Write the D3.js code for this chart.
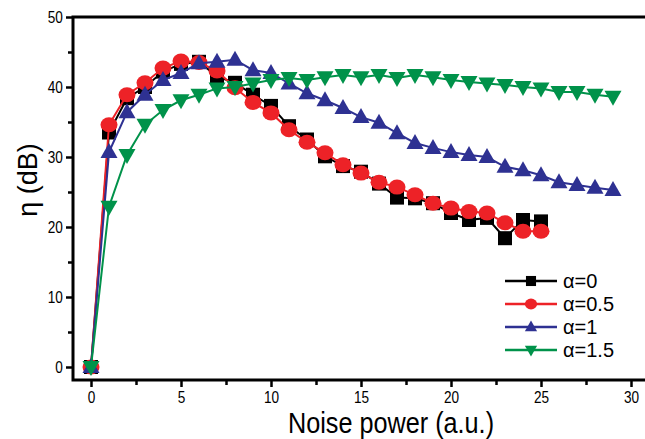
<!DOCTYPE html>
<html>
<head>
<meta charset="utf-8">
<script src="https://cdn.jsdelivr.net/npm/d3@7"></script>
<style>
body { margin: 0; background: #fff; }
text { font-family: "Liberation Sans Narrow", "Arial Narrow", "Liberation Sans", sans-serif; fill: #000; }
.series path.line { fill: none; stroke-width: 2px; }
</style>
</head>
<body>
<script>
// noise power (a.u.)
var xs0 = d3.range(0, 26);   // alpha = 0, 0.5
var xs1 = d3.range(0, 30);   // alpha = 1, 1.5

var eta_a0 = [0, 33.5, 38.4, 40.0, 42.2, 43.3, 43.6, 41.5, 40.6, 38.9, 37.3, 34.4, 32.5,
              30.1, 28.7, 27.9, 26.2, 24.2, 24.1, 23.4, 22.0, 21.0, 21.3, 18.4, 21.0, 20.8];
var eta_a05 = [0, 34.6, 38.9, 40.6, 42.7, 43.7, 43.5, 42.3, 39.9, 37.8, 36.3, 33.9, 32.1,
               30.6, 28.9, 27.7, 26.4, 25.7, 24.6, 23.4, 22.7, 22.2, 22.0, 20.6, 19.4, 19.4];
var eta_a1 = [0, 30.7, 36.4, 38.9, 41.0, 42.0, 43.4, 43.6, 43.9, 42.4, 42.0, 40.5, 39.1,
              38.1, 37.0, 35.7, 34.9, 33.4, 32.0, 31.3, 30.7, 30.3, 30.0, 28.6, 28.1, 27.4,
              26.4, 26.0, 25.6, 25.3];
var eta_a15 = [0, 22.9, 30.3, 34.6, 36.7, 38.1, 38.9, 39.8, 40.0, 40.5, 41.0, 41.3, 41.0,
               41.4, 41.7, 41.4, 41.7, 41.3, 41.7, 41.4, 41.0, 40.7, 40.5, 40.3, 40.0, 39.8,
               39.3, 39.3, 38.9, 38.6];

var labels = ["α=0", "α=0.5", "α=1", "α=1.5"];
var colors = ["#000000", "#ed2227", "#2e3192", "#00924a"];
var shapes = ["square", "circle", "up", "down"];

var xTicks = [0, 5, 10, 15, 20, 25, 30];
var yTicks = [0, 10, 20, 30, 40, 50];

var width = 645, height = 439;
var svg = d3.select("body").append("svg")
    .attr("width", width)
    .attr("height", height);

var x = d3.scaleLinear().domain([0, 30]).range([91, 631]);
var y = d3.scaleLinear().domain([0, 50]).range([367, 17]);

var plotLeft = 73, plotTop = 17, plotBottom = 380;

// marker shapes
function marker(g, shape, color, s) {
  if (shape == "square") {
    g.append("rect").attr("x", -7 * s).attr("y", -7 * s)
      .attr("width", 14 * s).attr("height", 14 * s).attr("fill", color);
  } else if (shape == "circle") {
    g.append("ellipse").attr("rx", 8.5 * s).attr("ry", 7.5 * s).attr("fill", color);
  } else if (shape == "up") {
    g.append("path").attr("d", "M0," + (-9 * s) + "L" + (8.5 * s) + "," + (6 * s) + "L" + (-8.5 * s) + "," + (6 * s) + "Z")
      .attr("fill", color);
  } else {
    g.append("path").attr("d", "M0," + (9 * s) + "L" + (8.5 * s) + "," + (-6 * s) + "L" + (-8.5 * s) + "," + (-6 * s) + "Z")
      .attr("fill", color);
  }
}

var series = [
  {xs: xs0, ys: eta_a0},
  {xs: xs0, ys: eta_a05},
  {xs: xs1, ys: eta_a1},
  {xs: xs1, ys: eta_a15}
];

var line = d3.line().x(d => x(d[0])).y(d => y(d[1]));

series.forEach(function(s, i) {
  var pts = s.xs.map((v, j) => [v, s.ys[j]]);
  var g = svg.append("g").attr("class", "series");
  g.append("path").attr("class", "line")
    .attr("d", line(pts))
    .attr("stroke", colors[i]);
  g.selectAll("g.pt").data(pts).enter().append("g")
    .attr("class", "pt")
    .attr("transform", d => "translate(" + x(d[0]) + "," + y(d[1]) + ")")
    .each(function() { marker(d3.select(this), shapes[i], colors[i], 1); });
});

// frame (right side runs off the picture)
svg.append("path")
  .attr("d", "M" + (width + 5) + "," + plotTop + "H" + plotLeft + "V" + plotBottom + "H" + (width + 5))
  .attr("fill", "none").attr("stroke", "#000").attr("stroke-width", 3);

// x axis ticks
var xAxis = d3.axisBottom(x).tickValues(xTicks).tickSize(7).tickPadding(5);
var gx = svg.append("g").attr("transform", "translate(0," + plotBottom + ")").call(xAxis);
gx.select(".domain").remove();
gx.selectAll(".tick line").attr("stroke-width", 2.5);
gx.selectAll(".tick text").style("font-size", "16px").style("font-family", null)
  .attr("transform", "scale(0.85,1)");
var gxm = svg.append("g").attr("transform", "translate(0," + plotBottom + ")")
  .call(d3.axisBottom(x).tickValues([2.5, 7.5, 12.5, 17.5, 22.5, 27.5]).tickSize(5).tickFormat(""));
gxm.select(".domain").remove();
gxm.selectAll(".tick line").attr("stroke-width", 2.5);

// y axis ticks
var yAxis = d3.axisLeft(y).tickValues(yTicks).tickSize(7).tickPadding(5);
var gy = svg.append("g").attr("transform", "translate(" + plotLeft + ",0)").call(yAxis);
gy.select(".domain").remove();
gy.selectAll(".tick line").attr("stroke-width", 2.5);
gy.selectAll(".tick text").style("font-size", "16px").style("font-family", null)
  .attr("transform", "scale(0.85,1)");
var gym = svg.append("g").attr("transform", "translate(" + plotLeft + ",0)")
  .call(d3.axisLeft(y).tickValues([5, 15, 25, 35, 45]).tickSize(5).tickFormat(""));
gym.select(".domain").remove();
gym.selectAll(".tick line").attr("stroke-width", 2.5);

// axis titles
svg.append("text")
  .attr("transform", "translate(391,433) scale(0.87,1)")
  .attr("text-anchor", "middle")
  .style("font-size", "29px")
  .text("Noise power (a.u.)");

svg.append("text")
  .attr("transform", "translate(37,180) rotate(-90)")
  .attr("text-anchor", "middle")
  .style("font-size", "27px")
  .text("η  (dB)");

// legend
var leg = svg.append("g").attr("transform", "translate(505,281)");
labels.forEach(function(l, i) {
  var row = leg.append("g").attr("transform", "translate(0," + (i * 23) + ")");
  row.append("line").attr("x1", 0).attr("x2", 52).attr("y1", 0).attr("y2", 0)
    .attr("stroke", colors[i]).attr("stroke-width", 2.5);
  var m = row.append("g").attr("transform", "translate(26,0)");
  marker(m, shapes[i], colors[i], 0.72);
  row.append("text").attr("x", 58).attr("y", 7)
    .style("font-size", "20px")
    .text(l);
});
</script>
</body>
</html>
